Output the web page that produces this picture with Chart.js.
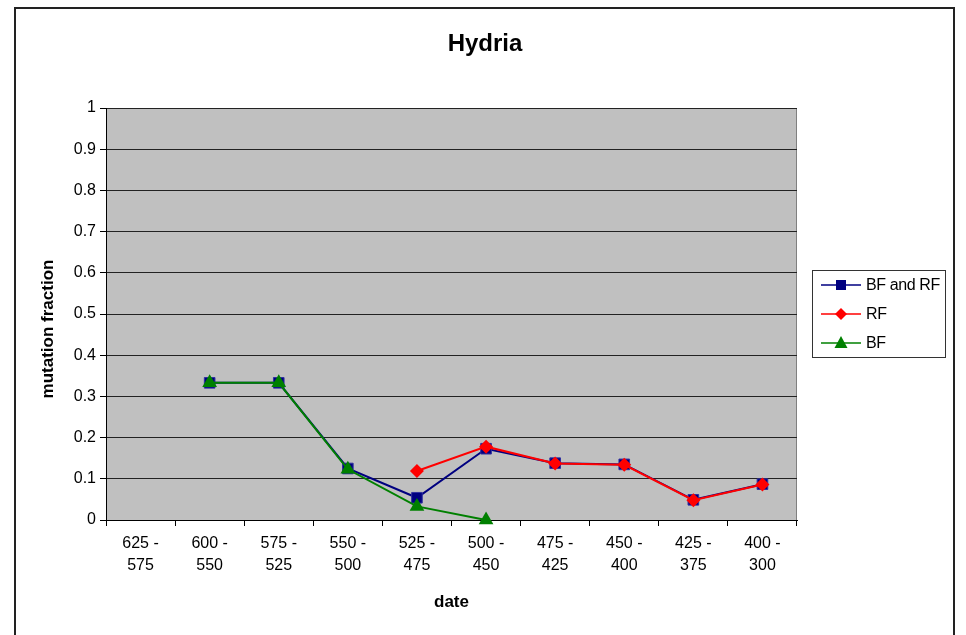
<!DOCTYPE html>
<html lang="en">
  <head>
    <meta charset="UTF-8" />
    <title>Hydria</title>
    <script src="https://cdn.jsdelivr.net/npm/chart.js@4.4.0/dist/chart.umd.min.js"></script>
    <style>
      body {
        margin: 0;
        padding: 0;
        background: #fff;
        font-family: "Liberation Sans", Arial, sans-serif;
        overflow: hidden;
      }

      #frame {
        position: absolute;
        left: 14px;
        top: 7px;
        width: 941px;
        height: 660px;
        border: 2px solid #222;
        box-sizing: border-box;
      }

      #chart {
        position: absolute;
        left: 0;
        top: 0;
      }

      .legend {
        position: absolute;
        left: 812px;
        top: 270px;
        width: 134px;
        height: 88px;
        border: 1px solid #333;
        box-sizing: border-box;
        font-size: 16px;
        color: #000;
      }

      .legend .item {
        position: absolute;
        left: 0;
        height: 20px;
        line-height: 20px;
        white-space: nowrap;
      }

      .legend svg {
        position: absolute;
        left: 6px;
        top: 0;
      }

      .legend span {
        position: absolute;
        left: 53px;
        letter-spacing: -0.4px;
      }
    </style>
  </head>
  <body>
    <div id="frame"></div>
    <canvas id="chart" width="966" height="635"></canvas>

    <div class="legend">
      <div class="item" style="top: 4px">
        <svg width="44" height="20">
          <line x1="2" y1="10" x2="42" y2="10" stroke="#000080" stroke-width="1.5" />
          <rect x="17" y="5" width="10" height="10" fill="#000080" />
        </svg>
        <span>BF and RF</span>
      </div>
      <div class="item" style="top: 33px">
        <svg width="44" height="20">
          <line x1="2" y1="10" x2="42" y2="10" stroke="#ff0000" stroke-width="1.5" />
          <polygon points="22,4 28,10 22,16 16,10" fill="#ff0000" />
        </svg>
        <span>RF</span>
      </div>
      <div class="item" style="top: 62px">
        <svg width="44" height="20">
          <line x1="2" y1="10" x2="42" y2="10" stroke="#008000" stroke-width="1.5" />
          <polygon points="22,3 28.5,15 15.5,15" fill="#008000" />
        </svg>
        <span>BF</span>
      </div>
    </div>

    <script>
      // datos
      const dateLabels = [
        ["625 -", "575"],
        ["600 -", "550"],
        ["575 -", "525"],
        ["550 -", "500"],
        ["525 -", "475"],
        ["500 -", "450"],
        ["475 -", "425"],
        ["450 -", "400"],
        ["425 -", "375"],
        ["400 -", "300"],
      ];
      const bfAndRf = [null, 0.333, 0.333, 0.125, 0.054, 0.173, 0.138, 0.135, 0.049, 0.087];
      const rf = [null, null, null, null, 0.119, 0.178, 0.137, 0.134, 0.048, 0.086];
      const bf = [null, 0.333, 0.333, 0.123, 0.033, 0, null, null, null, null];

      const fontFamily = "'Liberation Sans', Arial, sans-serif";

      const plotBg = {
        id: "plotBg",
        beforeDraw(chart) {
          const { ctx, chartArea: a } = chart;
          ctx.save();
          ctx.fillStyle = "#c0c0c0";
          ctx.fillRect(a.left, a.top, a.right - a.left, a.bottom - a.top);
          ctx.strokeStyle = "#808080";
          ctx.lineWidth = 1;
          ctx.strokeRect(a.left + 0.5, a.top + 0.5, a.right - a.left - 1, a.bottom - a.top);
          ctx.restore();
        },
        afterDraw(chart) {
          const { ctx } = chart;
          ctx.save();
          ctx.fillStyle = "#000";
          ctx.textAlign = "center";
          ctx.textBaseline = "middle";
          ctx.font = "bold 24px " + fontFamily;
          ctx.fillText("Hydria", 485, 44);
          // titulo del eje y
          ctx.font = "bold 17px " + fontFamily;
          ctx.translate(48, 329);
          ctx.rotate(-Math.PI / 2);
          ctx.fillText("mutation fraction", 0, 0);
          ctx.restore();
        },
      };

      const tickFont = { family: fontFamily, size: 16 };
      const titleFont = { family: fontFamily, size: 17, weight: "bold" };

      new Chart(document.getElementById("chart"), {
        type: "line",
        data: {
          labels: dateLabels,
          datasets: [
            {
              label: "BF and RF",
              data: bfAndRf,
              borderColor: "#000080",
              backgroundColor: "#000080",
              borderWidth: 2,
              pointStyle: "rect",
              pointRadius: 7.5,
              pointBorderColor: "#3030a0",
              pointBorderWidth: 1,
              clip: false,
              order: 2,
            },
            {
              label: "RF",
              data: rf,
              borderColor: "#ff0000",
              backgroundColor: "#ff0000",
              borderWidth: 2,
              pointStyle: "rectRot",
              pointRadius: 7,
              pointBorderWidth: 0,
              clip: false,
              order: 1,
            },
            {
              label: "BF",
              data: bf,
              borderColor: "#008000",
              backgroundColor: "#008000",
              borderWidth: 2,
              pointStyle: "triangle",
              pointRadius: 8.5,
              pointBorderWidth: 0,
              clip: false,
              order: 0,
            },
          ],
        },
        options: {
          responsive: false,
          animation: false,
          devicePixelRatio: 1,
          layout: {
            padding: { top: 108, right: 169, bottom: 0, left: 0 },
          },
          plugins: {
            legend: { display: false },
            title: { display: false },
            tooltip: { enabled: false },
          },
          scales: {
            x: {
              offset: true,
              grid: {
                offset: true,
                drawOnChartArea: false,
                drawTicks: true,
                tickLength: 6,
                color: "#000",
              },
              border: { color: "#000", width: 1 },
              ticks: {
                color: "#000",
                font: { ...tickFont, lineHeight: 1.4 },
                padding: 6,
                maxRotation: 0,
                autoSkip: false,
              },
              title: {
                display: true,
                text: "date",
                color: "#000",
                font: titleFont,
                padding: { top: 0, bottom: 22 },
              },
              afterFit(scale) {
                scale.height = 115;
              },
            },
            y: {
              min: 0,
              max: 1,
              ticks: {
                stepSize: 0.1,
                color: "#000",
                font: tickFont,
                padding: 4,
                callback: (v) => String(+v.toFixed(1)),
              },
              grid: {
                color: "#222",
                tickColor: "#000",
                tickLength: 6,
                lineWidth: 1,
              },
              border: { color: "#000", width: 1 },
              afterFit(scale) {
                scale.width = 106;
              },
            },
          },
        },
        plugins: [plotBg],
      });
    </script>
  </body>
</html>
